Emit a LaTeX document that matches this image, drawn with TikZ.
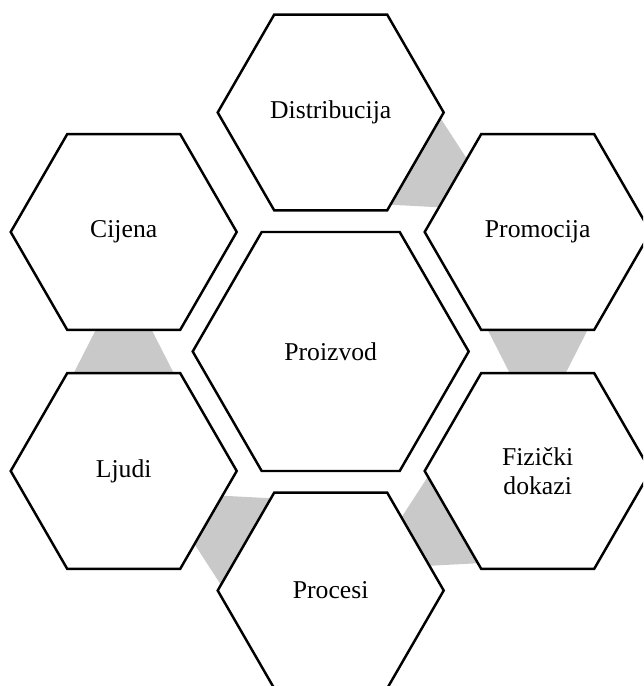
\documentclass[tikz,border=0pt]{standalone}
\usepackage{fontspec}
\setmainfont{Liberation Serif}
\usetikzlibrary{shapes.geometric,backgrounds}
\definecolor{linkgray}{HTML}{C9C9C9}
\begin{document}
\begin{tikzpicture}[
        hex/.style={regular polygon, regular polygon sides=6, draw, fill=white,
            line width=1.4pt, minimum size=4.52cm, inner sep=0pt, outer sep=0pt,
            align=center, font=\fontsize{14.6}{16.2}\selectfont},
        hexcore/.style={hex, minimum size=5.52cm},
        link/.style={fill=linkgray}]
    \useasboundingbox (-6.614,-6.69) rectangle (6.246,7.03);
    \clip (-6.614,-6.69) rectangle (6.246,7.03);

    \node[hexcore] (proizvod) at (0,0) {Proizvod};
    \node[hex] (distribucija) at (90:4.78) {Distribucija};
    \node[hex] (promocija) at (30:4.78) {Promocija};
    \node[hex] (dokazi) at (-30:4.78) {Fizički\\dokazi};
    \node[hex] (procesi) at (-90:4.78) {Procesi};
    \node[hex] (ljudi) at (-150:4.78) {Ljudi};
    \node[hex] (cijena) at (150:4.78) {Cijena};

    % grey links behind the ring
    \begin{scope}[on background layer]
        \foreach \src/\a in {distribucija/90,promocija/30,dokazi/-30,procesi/-90,ljudi/-150}
            \fill[link] ([shift={(\a-93:2.2)}]\src.center) -- ([shift={(\a-120:3.92)}]\src.center)
                -- ([shift={(\a-147:2.2)}]\src.center) -- cycle;
    \end{scope}
\end{tikzpicture}
\end{document}
